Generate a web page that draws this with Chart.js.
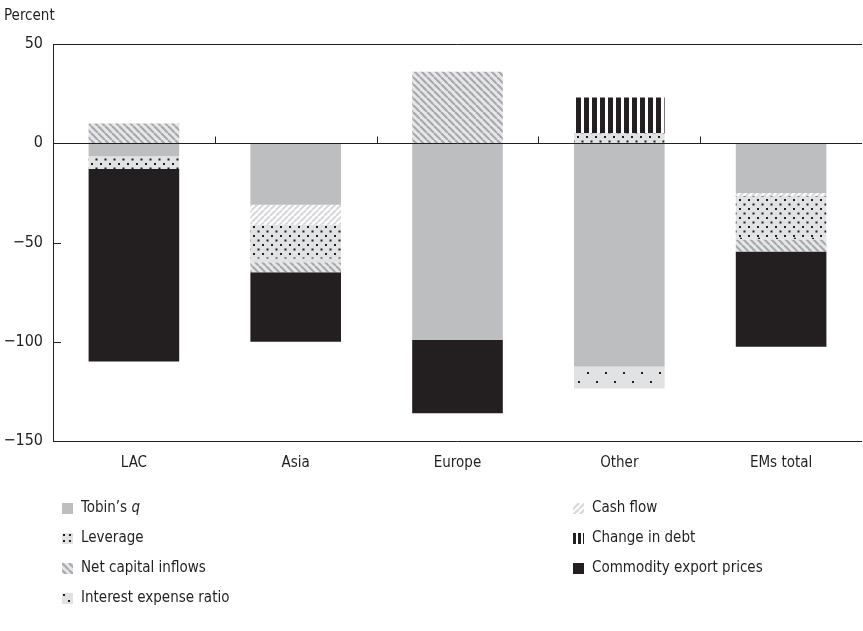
<!DOCTYPE html>
<html>
<head>
<meta charset="utf-8">
<script src="https://cdn.jsdelivr.net/npm/chart.js@4.4.0/dist/chart.umd.min.js"></script>
<style>
  html, body { margin: 0; padding: 0; background: #fff; }
  #wrap { width: 863px; height: 631px; position: relative; }
</style>
</head>
<body>
<div id="wrap"><canvas id="chart" width="863" height="631"></canvas></div>
<script>
// data
const regions = ['LAC', 'Asia', 'Europe', 'Other', 'EMs total'];
const tobinsQ = [-6.5, -31, -99, -112.5, -25];
const cashFlow = [0, -10, 0, 0, -1.5];
const leverage = [-6.5, -17, 0, 5, -21];
const interestExpense = [0, -2, 0, -11, -1];
const netCapitalInflows = [10, -5, 36, 0, -6];
const changeInDebt = [0, 0, 0, 18, 0];
const commodityPrices = [-97, -35, -37, 0, -48];
const yTicks = [-150, -100, -50, 0, 50];

const FONT = "'DejaVu Sans Condensed', 'DejaVu Sans', sans-serif";
const INK = '#231f20';

function makePattern(w, h, draw) {
  const c = document.createElement('canvas');
  c.width = w; c.height = h;
  const g = c.getContext('2d');
  draw(g, w, h);
  return g.createPattern(c, 'repeat');
}

const patCash = makePattern(6, 6, (g, w, h) => {
  g.fillStyle = '#ffffff'; g.fillRect(0, 0, w, h);
  g.strokeStyle = '#d6d7d9'; g.lineWidth = 2;
  for (let k = -1; k <= 1; k++) {
    g.beginPath(); g.moveTo(k * w, h); g.lineTo(k * w + w, 0); g.stroke();
  }
});
const patNetCap = makePattern(7, 7, (g, w, h) => {
  g.fillStyle = '#e6e7e8'; g.fillRect(0, 0, w, h);
  g.strokeStyle = '#a7a9ac'; g.lineWidth = 2.2;
  for (let k = -1; k <= 1; k++) {
    g.beginPath(); g.moveTo(k * w, 0); g.lineTo(k * w + w, h); g.stroke();
  }
});
const patLeverage = makePattern(9, 9, (g, w, h) => {
  g.fillStyle = '#e1e2e3'; g.fillRect(0, 0, w, h);
  g.fillStyle = INK;
  g.fillRect(1, 1, 2, 2);
  g.fillRect(5.5, 5.5, 2, 2);
});
const patInterest = makePattern(18, 18, (g, w, h) => {
  g.fillStyle = '#e1e2e3'; g.fillRect(0, 0, w, h);
  g.fillStyle = INK;
  g.fillRect(2, 3, 2, 2);
  g.fillRect(11, 12, 2, 2);
});
const patDebt = makePattern(8, 2, (g, w, h) => {
  g.fillStyle = '#ffffff'; g.fillRect(0, 0, w, h);
  g.fillStyle = INK; g.fillRect(0, 0, 5, h);
});

// small tiles for the legend keys so a few dots/stripes show in 11px
const keyLeverage = makePattern(6, 6, (g, w, h) => {
  g.fillStyle = '#e1e2e3'; g.fillRect(0, 0, w, h);
  g.fillStyle = INK; g.fillRect(1, 1, 2, 2);
});
const keyInterest = makePattern(11, 11, (g, w, h) => {
  g.fillStyle = '#e1e2e3'; g.fillRect(0, 0, w, h);
  g.fillStyle = INK; g.fillRect(1, 1, 2, 2); g.fillRect(6, 7, 2, 2);
});
const keyDebt = makePattern(5, 2, (g, w, h) => {
  g.fillStyle = '#ffffff'; g.fillRect(0, 0, w, h);
  g.fillStyle = INK; g.fillRect(0, 0, 3, h);
});

const datasets = [
  { label: 'Tobin\u2019s q', data: tobinsQ, backgroundColor: '#bcbec0' },
  { label: 'Cash flow', data: cashFlow, backgroundColor: patCash },
  { label: 'Leverage', data: leverage, backgroundColor: patLeverage, key: keyLeverage },
  { label: 'Interest expense ratio', data: interestExpense, backgroundColor: patInterest, key: keyInterest },
  { label: 'Net capital inflows', data: netCapitalInflows, backgroundColor: patNetCap },
  { label: 'Change in debt', data: changeInDebt, backgroundColor: patDebt, key: keyDebt },
  { label: 'Commodity export prices', data: commodityPrices, backgroundColor: INK }
];

// legend layout: [dataset index, column, row]
const legendItems = [
  [0, 0, 0], [1, 1, 0],
  [2, 0, 1], [5, 1, 1],
  [4, 0, 2], [6, 1, 2],
  [3, 0, 3]
];

const frame = {
  id: 'frame',
  afterDatasetsDraw(chart) {
    const { ctx, chartArea: a, scales: { x, y } } = chart;
    ctx.save();
    ctx.strokeStyle = INK;
    ctx.lineWidth = 1;
    const y0 = Math.round(y.getPixelForValue(0)) + 0.5;
    ctx.beginPath();
    ctx.moveTo(a.left + 0.5, a.top + 0.5);
    ctx.lineTo(a.right, a.top + 0.5);
    ctx.moveTo(a.left + 0.5, a.top);
    ctx.lineTo(a.left + 0.5, a.bottom + 0.5);
    ctx.lineTo(a.right, a.bottom + 0.5);
    ctx.moveTo(a.left, y0);
    ctx.lineTo(a.right, y0);
    yTicks.forEach(v => {
      const py = Math.round(y.getPixelForValue(v)) + 0.5;
      ctx.moveTo(a.left, py);
      ctx.lineTo(a.left + 8, py);
    });
    const step = (a.right - a.left) / regions.length;
    for (let i = 1; i < regions.length; i++) {
      const px = Math.round(a.left + step * i) + 0.5;
      ctx.moveTo(px, y0);
      ctx.lineTo(px, y0 - 7);
    }
    ctx.stroke();
    ctx.restore();
  },
  afterDraw(chart) {
    const { ctx } = chart;
    ctx.save();
    ctx.fillStyle = INK;
    ctx.font = '15px ' + FONT;
    ctx.textBaseline = 'middle';
    ctx.textAlign = 'left';
    ctx.fillText('Percent', 4, 16);

    const colX = [62, 573];
    const rowY = [508, 538, 568, 598];
    legendItems.forEach(([di, col, row]) => {
      const ds = chart.data.datasets[di];
      const sx = colX[col], sy = rowY[row];
      ctx.save();
      ctx.translate(sx, sy - 5);
      ctx.fillStyle = ds.key || ds.backgroundColor;
      ctx.fillRect(0, 0, 11, 11);
      ctx.restore();
      ctx.fillStyle = INK;
      const tx = sx + 19;
      if (di === 0) {
        ctx.font = '15px ' + FONT;
        ctx.fillText('Tobin\u2019s ', tx, sy);
        const w = ctx.measureText('Tobin\u2019s ').width;
        ctx.font = 'italic 15px ' + FONT;
        ctx.fillText('q', tx + w, sy);
      } else {
        ctx.font = '15px ' + FONT;
        ctx.fillText(ds.label, tx, sy);
      }
    });
    ctx.restore();
  }
};

new Chart(document.getElementById('chart'), {
  type: 'bar',
  data: { labels: regions, datasets },
  options: {
    responsive: false,
    animation: false,
    datasets: { bar: { categoryPercentage: 1, barPercentage: 0.56, borderWidth: 0 } },
    layout: { padding: { top: 44, right: 1, bottom: 160, left: 0 } },
    scales: {
      x: {
        stacked: true,
        grid: { display: false, drawTicks: false },
        border: { display: false },
        ticks: { color: INK, font: { family: FONT, size: 15 }, padding: 13 },
        afterFit(s) { s.height = 30; }
      },
      y: {
        stacked: true,
        min: -150, max: 50,
        afterBuildTicks(s) { s.ticks = yTicks.map(v => ({ value: v })); },
        grid: { display: false, drawTicks: false },
        border: { display: false },
        ticks: {
          color: INK, font: { family: FONT, size: 16 }, padding: 10,
          callback: v => String(v).replace('-', '\u2212')
        },
        afterFit(s) { s.width = 53; }
      }
    },
    plugins: { legend: { display: false }, tooltip: { enabled: false } }
  },
  plugins: [frame]
});
</script>
</body>
</html>
